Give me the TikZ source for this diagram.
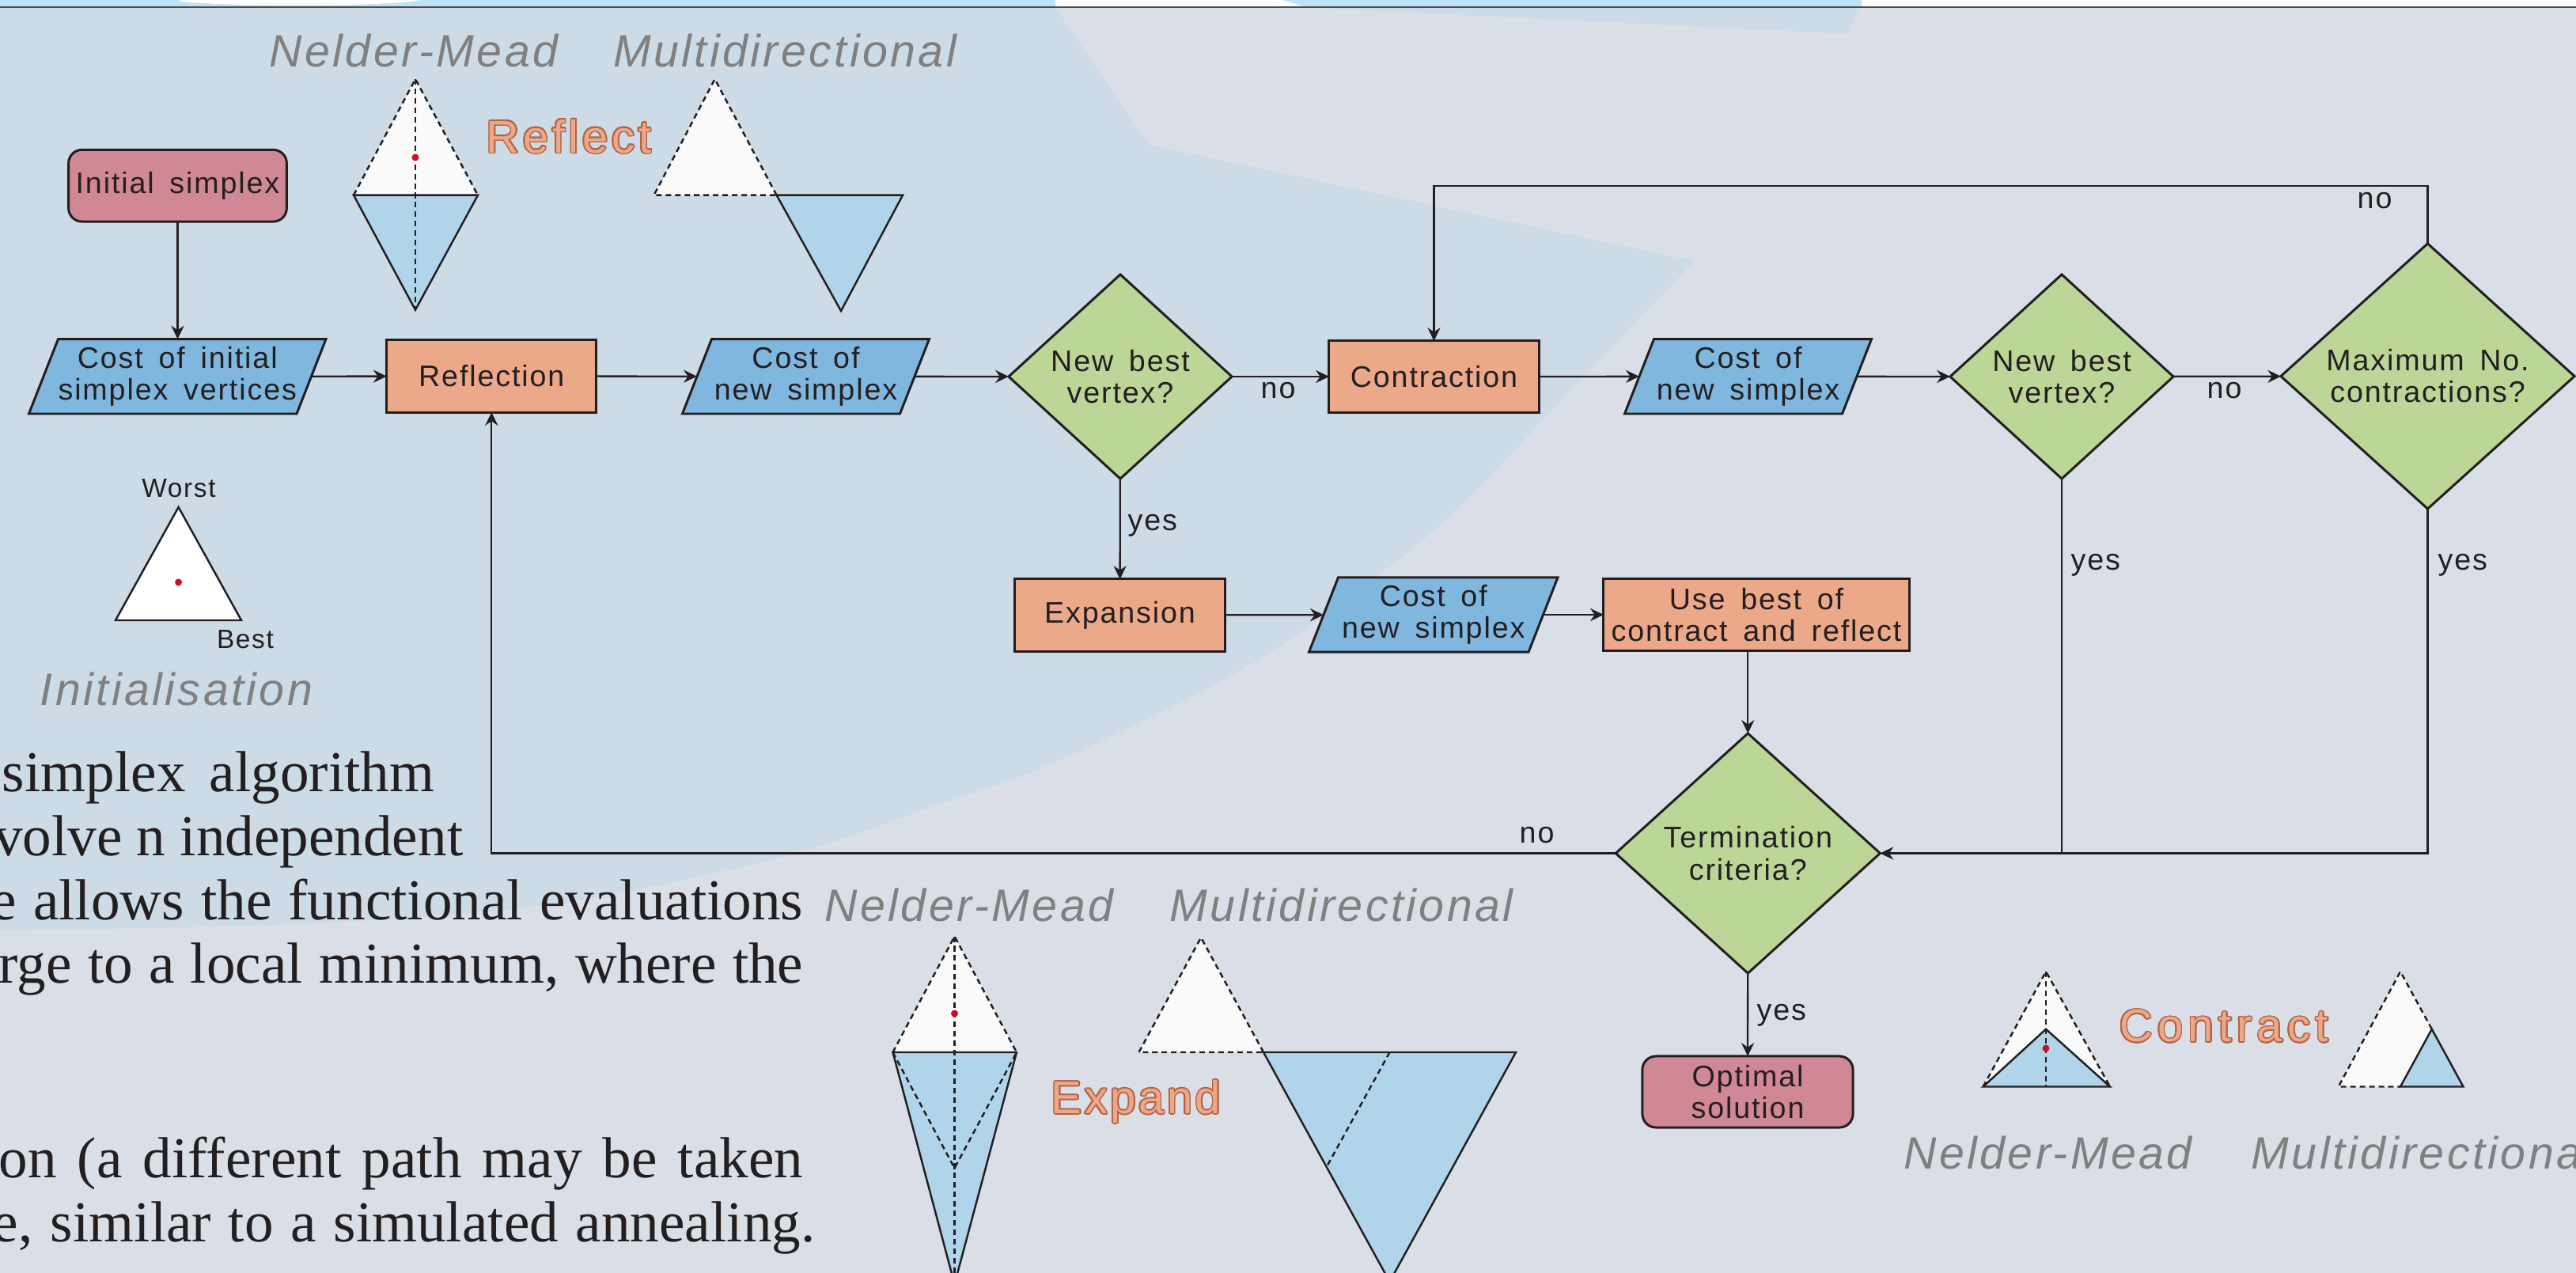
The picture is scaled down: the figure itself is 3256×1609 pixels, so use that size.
\documentclass[tikz,border=0pt]{standalone}
\usepackage{fontspec}
\usepackage{contour}
\usetikzlibrary{arrows.meta,shapes.geometric}
\setmainfont{Liberation Sans}
\newfontfamily\flowfont[LetterSpace=5,WordSpace=1.6]{Liberation Sans}
\newfontfamily\labfont[LetterSpace=6]{Liberation Sans}
\newfontfamily\orfont[LetterSpace=8]{Liberation Sans}
\newfontfamily\serifbg{Liberation Serif}
\newcommand\ftext{\flowfont\fontsize{10.7pt}{11.4pt}\selectfont}
\definecolor{bggray}{RGB}{218,223,231}
\definecolor{bluereg}{RGB}{204,219,230}
\definecolor{topblue}{RGB}{189,228,246}
\definecolor{ink}{RGB}{35,31,32}
\definecolor{orangebox}{RGB}{236,169,138}
\definecolor{pinkbox}{RGB}{209,136,149}
\definecolor{bluebox}{RGB}{127,183,223}
\definecolor{greenbox}{RGB}{188,214,151}
\definecolor{triblue}{RGB}{176,213,235}
\definecolor{triwhite}{RGB}{250,250,250}
\definecolor{reddot}{RGB}{200,16,46}
\definecolor{labgray}{RGB}{128,128,128}
\definecolor{outl}{RGB}{178,100,70}
\definecolor{topline}{RGB}{77,77,79}
\contourlength{0.45pt}
\newcommand\paral[3]{\filldraw[paralstyle] ({#1-#3+18.5},{#2-47.2}) -- ({#1+#3+18.5},{#2-47.2}) -- ({#1+#3-18.5},{#2+47.2}) -- ({#1-#3-18.5},{#2+47.2}) -- cycle;}
\begin{document}
\begin{tikzpicture}[x=0.01cm,y=-0.01cm,
  flowbox/.style={draw=ink, line width=0.85pt, fill=orangebox, inner sep=0pt, outer sep=0pt, align=center, text=ink, font=\ftext},
  startbox/.style={flowbox, fill=pinkbox, rounded corners=0.17cm},
  iobox/.style={inner sep=0pt, outer sep=0pt, align=center, text=ink, font=\ftext},
  paralstyle/.style={draw=ink, line width=0.85pt, fill=bluebox},
  decision/.style={flowbox, shape=diamond, fill=greenbox},
  conn/.style={draw=ink, line width=0.65pt, -{Stealth[length=4.8pt,width=4.6pt,inset=1.6pt]}},
  plainline/.style={draw=ink, line width=0.65pt},
  lab/.style={inner sep=0pt, anchor=base west, text=ink, font=\ftext},
  tri/.style={draw=ink, line width=0.7pt, line join=miter},
  dsh/.style={draw=ink, line width=0.7pt, dash pattern=on 2pt off 1.4pt},
  glab/.style={inner sep=0pt, anchor=base, text=labgray, font=\labfont\itshape\fontsize{16.3pt}{18pt}\selectfont},
  olab/.style={inner sep=0pt, anchor=base, text=orangebox, font=\orfont\fontsize{16.5pt}{18pt}\selectfont},
  sertext/.style={inner sep=0pt, anchor=base east, text=ink, font=\serifbg\fontsize{20.8pt}{24pt}\selectfont},
  small/.style={inner sep=0pt, anchor=base, text=ink, font=\flowfont\fontsize{9.5pt}{11pt}\selectfont}
]
\useasboundingbox (0,0) rectangle (3256,1609);
\begin{scope}
\clip (0,0) rectangle (3256,1609);
% ---------- background ----------
\fill[bggray] (0,0) rectangle (3256,1609);
\fill[bluereg] (0,0) -- (1334,0) -- (1334,10) -- (1453,183)
  -- plot[smooth, tension=0.55] coordinates {(2142,330) (1987,491) (1882,603) (1777,700) (1580,840) (1332,964) (1166,1024) (1000,1080) (717,1140) (400,1167) (0,1176)}
  -- cycle;
\fill[bluereg] (1621,0) -- (2353,0) -- (2335,43) -- (1664,10) -- cycle;
\fill[topblue] (0,0) rectangle (3256,9);
\fill[white] (228,0) -- (531,0) .. controls (500,8) and (300,9) .. (228,2) -- cycle;
\fill[white] (1334,0) -- (1621,0) -- (1650,9) -- (1334,9) -- cycle;
\fill[white] (2353,0) rectangle (3256,9);
\draw[topline, line width=0.8pt] (0,9) -- (3256,9);
% ---------- background serif text ----------
\node[sertext] (t1) at (550,1000) {\makebox[5.46cm][s]{simplex algorithm}};
\node[sertext] (t2) at (586,1081) {volve n independent};
\node[sertext] (t3) at (1016,1162) {\makebox[10.26cm][s]{e allows the functional evaluations}};
\node[sertext] (t4) at (1016,1242) {\makebox[10.16cm][s]{rge to a local minimum, where the}};
\node[sertext] (t5) at (1016,1488) {\makebox[10.16cm][s]{on (a different path may be taken}};
\node[sertext] (t6) at (1031,1569.5) {\makebox[10.39cm][s]{e, similar to a simulated annealing.}};
% ---------- reflect illustrations ----------
\node[glab] (nmr) at (523,84) {Nelder-Mead};
\node[glab] (mdr) at (992,84) {Multidirectional};
\node[olab] (reflab) at (719,193) {\contour{outl}{Reflect}};
\fill[triwhite] (525,100) -- (447,246.7) -- (604,246.7) -- cycle;
\filldraw[tri, fill=triblue] (447,246.7) -- (604,246.7) -- (525,391.7) -- cycle;
\draw[dsh] (447,246.7) -- (525,100) -- (604,246.7);
\draw[dsh] (525,100) -- (525,391.7);
\fill[reddot] (525,199) circle[radius=0.045cm];
\fill[triwhite] (903.5,100) -- (826.5,246.7) -- (981.6,246.7) -- cycle;
\draw[dsh] (981.6,246.7) -- (903.5,100) -- (826.5,246.7) -- (981.6,246.7);
\filldraw[tri, fill=triblue] (981.6,246.7) -- (1141,246.7) -- (1063,393) -- cycle;
% ---------- initialisation ----------
\filldraw[tri, fill=white] (225.6,641) -- (146,784) -- (305,784) -- cycle;
\fill[reddot] (225.6,736) circle[radius=0.045cm];
\node[small] (worst) at (226,628.6) {Worst};
\node[small] (best) at (310,819.5) {Best};
\node[glab] (initlab) at (223,891) {Initialisation};
% ---------- expand illustrations ----------
\node[glab] (nme) at (1225,1164.6) {Nelder-Mead};
\node[glab] (mde) at (1695.5,1164.6) {Multidirectional};
\node[olab] (explab) at (1436,1407.5) {\addfontfeatures{LetterSpace=6}\contour{outl}{Expand}};
\fill[triwhite] (1206.5,1183.5) -- (1128.5,1330) -- (1285,1330) -- cycle;
\filldraw[tri, fill=triblue] (1128.5,1330) -- (1285,1330) -- (1206.5,1623) -- cycle;
\draw[dsh] (1128.5,1330) -- (1206.5,1183.5) -- (1285,1330);
\draw[dsh] (1128.5,1330) -- (1206.5,1476.5) -- (1285,1330);
\draw[dsh] (1206.5,1183.5) -- (1206.5,1623);
\fill[reddot] (1206.5,1281) circle[radius=0.045cm];
\fill[triwhite] (1518,1185) -- (1439.5,1330) -- (1597,1330) -- cycle;
\draw[dsh] (1597,1330) -- (1518,1185) -- (1439.5,1330) -- (1597,1330);
\filldraw[tri, fill=triblue] (1597,1330) -- (1916,1330) -- (1756.5,1620) -- cycle;
\draw[dsh] (1756.5,1330) -- (1676.75,1475);
% ---------- contract illustrations ----------
\node[olab] (conlab) at (2811,1316.6) {\addfontfeatures{LetterSpace=11}\contour{outl}{Contract}};
\node[glab] (nmc) at (2588.5,1477) {Nelder-Mead};
\node[glab, anchor=base west] (mdc) at (2845,1477) {Multidirectional};
\fill[triwhite] (2586,1228) -- (2506.6,1373.5) -- (2667,1373.5) -- cycle;
\filldraw[tri, fill=triblue] (2506.6,1373.5) -- (2667,1373.5) -- (2586,1300.75) -- cycle;
\draw[dsh] (2506.6,1373.5) -- (2586,1228) -- (2667,1373.5);
\draw[dsh] (2586,1228) -- (2586,1373.5);
\fill[reddot] (2586,1325) circle[radius=0.045cm];
\fill[triwhite] (3034,1228) -- (2955.7,1373.5) -- (3113.5,1373.5) -- cycle;
\draw[dsh] (3073.75,1300.75) -- (3034,1228) -- (2955.7,1373.5) -- (3034,1373.5);
\filldraw[tri, fill=triblue] (3034,1373.5) -- (3113.5,1373.5) -- (3073.75,1300.75) -- cycle;
% ---------- flowchart nodes ----------
\node[startbox, minimum width=2.756cm, minimum height=0.907cm] (init) at (224.5,234.7) {Initial simplex};
\paral{224.25}{475.8}{169.25}
\node[iobox, minimum width=3.385cm, minimum height=0.944cm] (costinit) at (224.25,475.8) {Cost of initial\\simplex vertices};
\node[flowbox, minimum width=2.65cm, minimum height=0.91cm] (refl) at (621.3,475.5) {Reflection};
\paral{1018.5}{475.8}{137.5}
\node[iobox, minimum width=2.75cm, minimum height=0.944cm] (cost1) at (1018.5,475.8) {Cost of\\new simplex};
\node[decision, minimum width=2.82cm, minimum height=2.58cm] (dia1) at (1416,476) {New best\\vertex?};
\node[flowbox, minimum width=2.65cm, minimum height=0.90cm] (contr) at (1812.5,476) {Contraction};
\paral{2209.5}{475.8}{137.5}
\node[iobox, minimum width=2.75cm, minimum height=0.944cm] (cost2) at (2209.5,475.8) {Cost of\\new simplex};
\node[decision, minimum width=2.82cm, minimum height=2.58cm] (dia2) at (2606,476) {New best\\vertex?};
\node[decision, minimum width=3.71cm, minimum height=3.35cm] (dia3) at (3068.5,475.5) {Maximum No.\\contractions?};
\node[flowbox, minimum width=2.65cm, minimum height=0.91cm] (exp) at (1415.5,777.5) {Expansion};
\paral{1811.75}{777}{138.75}
\node[iobox, minimum width=2.775cm, minimum height=0.94cm] (cost3) at (1811.75,777) {Cost of\\new simplex};
\node[flowbox, minimum width=3.86cm, minimum height=0.91cm] (usebest) at (2220,777) {Use best of\\contract and reflect};
\node[decision, minimum width=3.34cm, minimum height=3.03cm] (term) at (2209.3,1078.5) {Termination\\criteria?};
\node[startbox, minimum width=2.66cm, minimum height=0.90cm] (opt) at (2209,1380) {Optimal\\solution};
% ---------- connectors ----------
\coordinate (looptop) at (3068.5,235);
\draw[conn] (init.south) -- (init.south |- costinit.north);
\draw[conn] (costinit) -- (refl);
\draw[conn] (refl) -- (cost1);
\draw[conn] (cost1) -- (dia1);
\draw[conn] (dia1) -- (contr);
\draw[conn] (contr) -- (cost2);
\draw[conn] (cost2) -- (dia2);
\draw[conn] (dia2) -- (dia3);
\draw[conn] (dia3.north) -- (looptop) -| (contr.north);
\draw[conn] (dia1) -- (exp);
\draw[conn] (exp) -- (cost3);
\draw[conn] (cost3) -- (usebest);
\draw[conn] (usebest.south -| term.north) -- (term.north);
\draw[conn] (term.west) -| (refl.south);
\draw[conn] (dia3.south) |- (term.east);
\draw[plainline] (dia2.south) -- (dia2.south |- term.east);
\draw[conn] (term) -- (opt);
% ---------- connector labels ----------
\node[lab] (no1) at (1593,503.6) {no};
\node[lab] (no2) at (2789,503.6) {no};
\node[lab] (no3) at (2979,263) {no};
\node[lab] (yes1) at (1425,670) {yes};
\node[lab] (yes2) at (2617,720) {yes};
\node[lab] (yes3) at (3081,720) {yes};
\node[lab] (no4) at (1920,1065) {no};
\node[lab] (yes4) at (2220,1289) {yes};
\end{scope}
\end{tikzpicture}
\end{document}
